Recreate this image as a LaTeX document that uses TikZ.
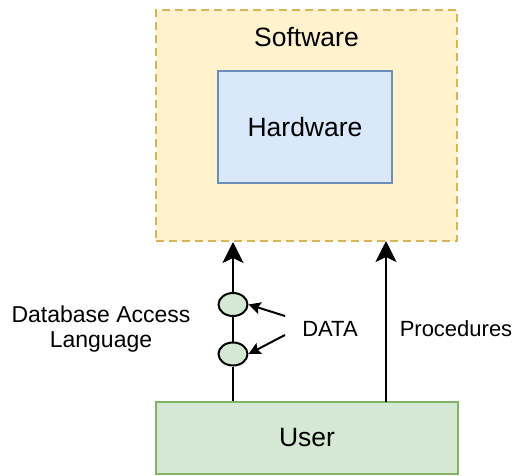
\documentclass[tikz,border=0pt]{standalone}
\usepackage{fontspec}
\setmainfont{Liberation Sans}
\usetikzlibrary{arrows.meta,shapes.geometric}
\definecolor{swfill}{HTML}{FFF2CC}
\definecolor{swdraw}{HTML}{D6B656}
\definecolor{hwfill}{HTML}{DAE8FC}
\definecolor{hwdraw}{HTML}{6C8EBF}
\definecolor{usfill}{HTML}{D5E8D4}
\definecolor{usdraw}{HTML}{82B366}
\tikzset{
  boxtext/.style={font=\fontsize{26.5}{30}\selectfont},
  lbltext/.style={font=\fontsize{22}{24}\selectfont, align=center},
  swbox/.style={draw=swdraw, fill=swfill, line width=2pt, dash pattern=on 8pt off 5pt, minimum width=301pt, minimum height=231pt, inner sep=0pt},
  hwbox/.style={draw=hwdraw, fill=hwfill, line width=2pt, minimum width=174pt, minimum height=112pt, inner sep=0pt, boxtext},
  usbox/.style={draw=usdraw, fill=usfill, line width=2pt, minimum width=302pt, minimum height=72pt, inner sep=0pt, boxtext},
  dot/.style={ellipse, draw=black, fill=usfill, line width=2pt, minimum width=29pt, minimum height=23pt, inner sep=0pt},
  bigarrow/.style={line width=2pt, -{Stealth[length=21pt, width=21pt, inset=5pt]}},
  smallarrow/.style={line width=2pt, -{Stealth[length=12pt, width=12pt, inset=2pt]}},
  plainline/.style={line width=2pt}
}
\begin{document}
\begin{tikzpicture}[x=1pt,y=-1pt]
\useasboundingbox (0,0) rectangle (517,475);
\node[swbox] (sw) at (306.5,125.5) {};
\node[boxtext] (swl) at (306.5,37) {Software};
\node[hwbox] (hw) at (305,127) {Hardware};
\node[usbox] (user) at (307,438) {User};
\node[dot] (e1) at (233,304.5) {};
\node[dot] (e2) at (233,354) {};
\node[lbltext, font=\fontsize{23}{25}\selectfont] (dal) at (101,329) {Database Access\\Language};
\node[lbltext] (data) at (330,329) {DATA};
\node[lbltext] (proc) at (456,329) {Procedures};
\coordinate (pb) at (386,402);
\coordinate (pt) at (386,241);
\coordinate (d1) at (285,316);
\coordinate (d2) at (285,335);
\draw[plainline] (e2.south) -- (e2.south |- user.north);
\draw[plainline] (e2.north) -- (e1.south);
\draw[bigarrow] (e1.north) -- (e1.north |- sw.south);
\draw[bigarrow] (pb) -- (pt);
\draw[smallarrow] (d1) -- (e1.east);
\draw[smallarrow] (d2) -- (e2.east);
\end{tikzpicture}
\end{document}
